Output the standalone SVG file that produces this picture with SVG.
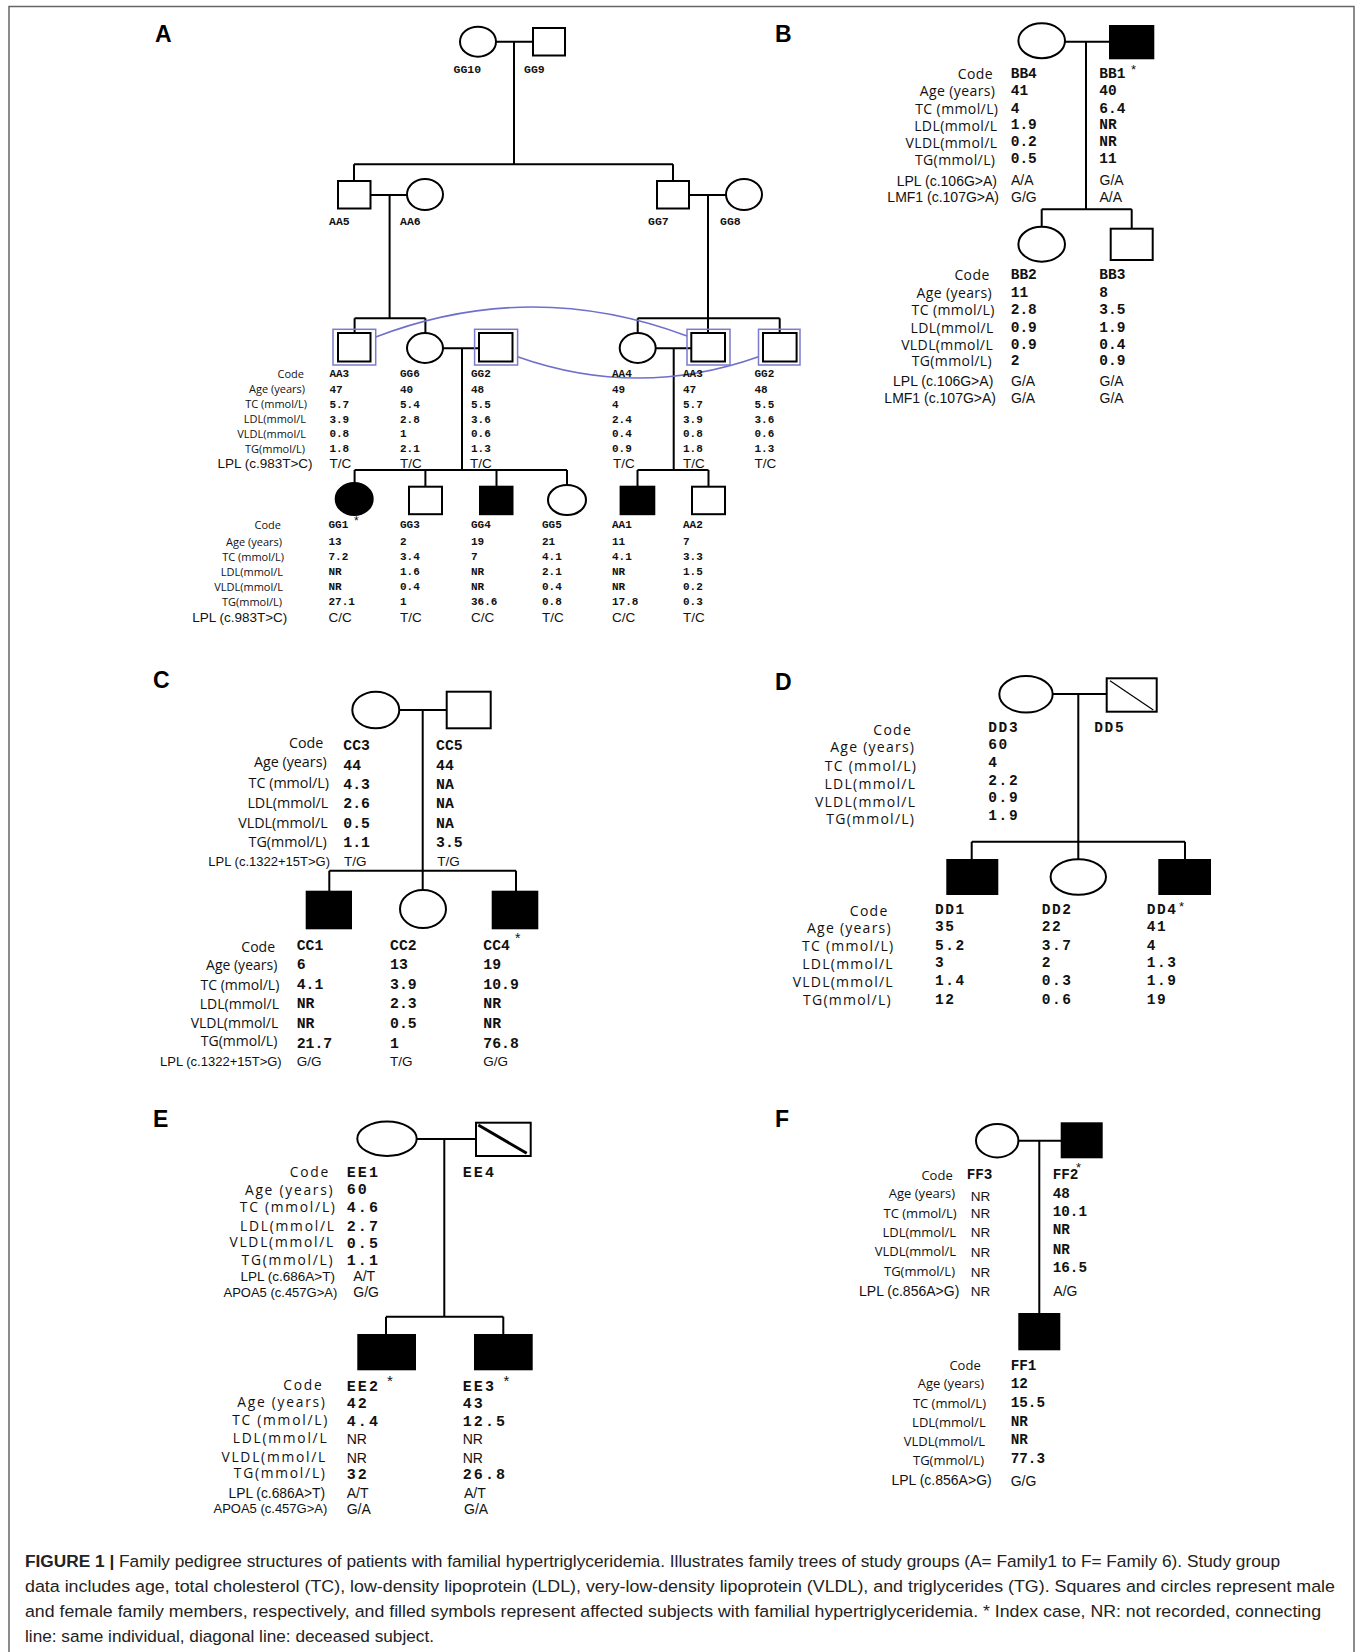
<svg xmlns="http://www.w3.org/2000/svg" width="1357" height="1652" viewBox="0 0 1357 1652">
<style>
.fr{fill:none;stroke:#666;stroke-width:1.5}
.ln{fill:none;stroke:#000;stroke-width:2}
.s{fill:#fff;stroke:#000;stroke-width:2}
.f{fill:#000;stroke:#000;stroke-width:2}
.bx{fill:none;stroke:#7b7bd0;stroke-width:1.5}
.arc{fill:none;stroke:#6f6fcc;stroke-width:1.6}
.pl{font-family:"Liberation Sans",Arial,sans-serif;font-weight:bold;font-size:23px;fill:#000}
.l{font-family:"Open Sans","Liberation Sans",sans-serif;text-anchor:end;fill:#111}
.ge{font-family:"Liberation Sans",Arial,sans-serif;text-anchor:end;fill:#111}
.g{font-family:"Liberation Sans",Arial,sans-serif;fill:#111}
.v{font-family:"Liberation Mono","Courier New",monospace;font-weight:bold;fill:#111}
.ast{font-family:"Liberation Sans",Arial,sans-serif;fill:#111}
.cap{font-family:"Liberation Sans",Arial,sans-serif;font-size:17.2px;fill:#222}
</style>
<rect x="0" y="0" width="1357" height="1652" fill="#fff"/>
<path class="fr" d="M9 1652 V6.5 H1354 V1652"/>

<g id="panel-labels">
<text class="pl" x="155" y="42">A</text>
<text class="pl" x="775" y="42">B</text>
<text class="pl" x="153" y="688">C</text>
<text class="pl" x="775" y="690">D</text>
<text class="pl" x="153" y="1127">E</text>
<text class="pl" x="775" y="1127">F</text>
</g>

<g id="connectors" class="ln">
<path d="M496 41.7 H533 M514 41.7 V164.3 M354 164.3 H673 M354 164.3 V181 M673 164.3 V181"/>
<path d="M370.5 195 H407 M389.6 195 V318.3 M689 195 H726 M708 195 V318.3"/>
<path d="M354.6 318.3 H425.4 M354.6 318.3 V333 M425.4 318.3 V333"/>
<path d="M443 348.3 H479 M462 348.3 V470"/>
<path d="M637.7 318.3 H779.7 M637.7 318.3 V333 M708 318.3 V333 M779.7 318.3 V333"/>
<path d="M655.7 348.3 H691.3 M673.7 348.3 V470"/>
<path d="M354.6 470 H567 M354.6 470 V483 M425.4 470 V486.7 M496.5 470 V486.7 M567 470 V485"/>
<path d="M637.5 470 H708.5 M637.5 470 V486.7 M708.5 470 V486.7"/>
<path d="M1065 41.7 H1110 M1086 41.7 V209.3 M1041.7 209.3 H1131.7 M1041.7 209.3 V226.7 M1131.7 209.3 V228.7"/>
<path d="M399.3 710 H446.7 M422.7 710 V890 M329.3 870.7 H516 M329.3 870.7 V891.7 M516 870.7 V891.7"/>
<path d="M1052.7 694 H1106.7 M1078.3 694 V859.3 M971.7 841.7 H1185 M971.7 841.7 V860 M1185 841.7 V860"/>
<path d="M416.7 1139 H476 M444.3 1139 V1316.7 M386 1316.7 H503.3 M386 1316.7 V1335 M503.3 1316.7 V1335"/>
<path d="M1018.3 1140.7 H1061.7 M1039.3 1140.7 V1314"/>
<path class="arc" d="M375.7 337 Q531 277.5 687 336"/>
<path class="arc" d="M517.5 356.7 Q638 399.3 758.5 356.7"/>
</g>

<!-- ===== Panel A ===== -->
<g id="A-GG10"><ellipse class="s" cx="478" cy="41.7" rx="18" ry="15"/><text class="v" font-size="11.5" x="453.5" y="73">GG10</text></g>
<g id="A-GG9"><rect class="s" x="533" y="28" width="32" height="27.5"/><text class="v" font-size="11.5" x="524" y="73">GG9</text></g>
<g id="A-AA5"><rect class="s" x="338" y="181" width="32.5" height="27.5"/><text class="v" font-size="11.5" x="329" y="225">AA5</text></g>
<g id="A-AA6"><ellipse class="s" cx="425" cy="194.5" rx="18" ry="15.5"/><text class="v" font-size="11.5" x="400" y="225">AA6</text></g>
<g id="A-GG7"><rect class="s" x="657" y="181" width="32" height="27.5"/><text class="v" font-size="11.5" x="648" y="225">GG7</text></g>
<g id="A-GG8"><ellipse class="s" cx="744" cy="194.5" rx="18" ry="15.5"/><text class="v" font-size="11.5" x="720" y="225">GG8</text></g>

<g id="A-labels-gen3" class="l" font-size="11">
<text x="304" y="378">Code</text>
<text x="305" y="393.3">Age (years)</text>
<text x="307" y="408.3">TC (mmol/L)</text>
<text x="306" y="423.3">LDL(mmol/L</text>
<text x="306" y="438">VLDL(mmol/L</text>
<text x="305" y="452.7">TG(mmol/L)</text>
<text class="ge" x="312.6" y="468.3" font-size="13.5">LPL (c.983T&gt;C)</text>
</g>

<g id="A-AA3">
<rect class="s" x="338" y="333" width="32.5" height="28.5"/><rect class="bx" x="333" y="329.3" width="42.7" height="35.7"/>
<g class="v" font-size="11" transform="translate(329.4,0)"><text y="377.3">AA3</text><text y="392.6">47</text><text y="407.6">5.7</text><text y="422.6">3.9</text><text y="437.3">0.8</text><text y="452">1.8</text></g>
<text class="g" font-size="13.5" x="329.4" y="468.3">T/C</text>
</g>
<g id="A-GG6">
<ellipse class="s" cx="425" cy="348" rx="18" ry="15"/>
<g class="v" font-size="11" transform="translate(400,0)"><text y="377.3">GG6</text><text y="392.6">40</text><text y="407.6">5.4</text><text y="422.6">2.8</text><text y="437.3">1</text><text y="452">2.1</text></g>
<text class="g" font-size="13.5" x="400" y="468.3">T/C</text>
</g>
<g id="A-GG2">
<rect class="s" x="479" y="333" width="33.5" height="28.5"/><rect class="bx" x="474.6" y="329.3" width="43" height="35.7"/>
<g class="v" font-size="11" transform="translate(471,0)"><text y="377.3">GG2</text><text y="392.6">48</text><text y="407.6">5.5</text><text y="422.6">3.6</text><text y="437.3">0.6</text><text y="452">1.3</text></g>
<text class="g" font-size="13.5" x="470" y="468.3">T/C</text>
</g>
<g id="A-AA4">
<ellipse class="s" cx="637.7" cy="348" rx="18" ry="15"/>
<g class="v" font-size="11" transform="translate(612,0)"><text y="377.3">AA4</text><text y="392.6">49</text><text y="407.6">4</text><text y="422.6">2.4</text><text y="437.3">0.4</text><text y="452">0.9</text></g>
<text class="g" font-size="13.5" x="613" y="468.3">T/C</text>
</g>
<g id="A-AA3b">
<rect class="s" x="691.3" y="333" width="33.7" height="28.5"/><rect class="bx" x="687" y="329.3" width="43" height="35.7"/>
<g class="v" font-size="11" transform="translate(683,0)"><text y="377.3">AA3</text><text y="392.6">47</text><text y="407.6">5.7</text><text y="422.6">3.9</text><text y="437.3">0.8</text><text y="452">1.8</text></g>
<text class="g" font-size="13.5" x="683" y="468.3">T/C</text>
</g>
<g id="A-GG2b">
<rect class="s" x="763" y="333" width="33.6" height="28.5"/><rect class="bx" x="758.5" y="329.3" width="41.5" height="35.7"/>
<g class="v" font-size="11" transform="translate(754.5,0)"><text y="377.3">GG2</text><text y="392.6">48</text><text y="407.6">5.5</text><text y="422.6">3.6</text><text y="437.3">0.6</text><text y="452">1.3</text></g>
<text class="g" font-size="13.5" x="754.5" y="468.3">T/C</text>
</g>

<g id="A-labels-gen4" class="l" font-size="11">
<text x="281" y="529">Code</text>
<text x="282" y="545.7">Age (years)</text>
<text x="284" y="560.7">TC (mmol/L)</text>
<text x="283" y="575.7">LDL(mmol/L</text>
<text x="283" y="590.7">VLDL(mmol/L</text>
<text x="282" y="605.7">TG(mmol/L)</text>
<text class="ge" x="287.3" y="621.7" font-size="13.5">LPL (c.983T&gt;C)</text>
</g>
<g id="A-GG1">
<ellipse class="f" cx="354.2" cy="499" rx="18.5" ry="16"/>
<g class="v" font-size="11" transform="translate(328.5,0)"><text y="528.3">GG1</text><text y="545">13</text><text y="560">7.2</text><text y="575">NR</text><text y="590">NR</text><text y="605">27.1</text></g>
<text class="ast" font-size="12" x="354" y="525">*</text>
<text class="g" font-size="13.5" x="328.5" y="621.7">C/C</text>
</g>
<g id="A-GG3">
<rect class="s" x="409" y="486.7" width="33" height="27.5"/>
<g class="v" font-size="11" transform="translate(400,0)"><text y="528.3">GG3</text><text y="545">2</text><text y="560">3.4</text><text y="575">1.6</text><text y="590">0.4</text><text y="605">1</text></g>
<text class="g" font-size="13.5" x="400" y="621.7">T/C</text>
</g>
<g id="A-GG4">
<rect class="f" x="480" y="486.7" width="32.5" height="27.5"/>
<g class="v" font-size="11" transform="translate(471,0)"><text y="528.3">GG4</text><text y="545">19</text><text y="560">7</text><text y="575">NR</text><text y="590">NR</text><text y="605">36.6</text></g>
<text class="g" font-size="13.5" x="471" y="621.7">C/C</text>
</g>
<g id="A-GG5">
<ellipse class="s" cx="567" cy="500" rx="19" ry="15"/>
<g class="v" font-size="11" transform="translate(542,0)"><text y="528.3">GG5</text><text y="545">21</text><text y="560">4.1</text><text y="575">2.1</text><text y="590">0.4</text><text y="605">0.8</text></g>
<text class="g" font-size="13.5" x="542" y="621.7">T/C</text>
</g>
<g id="A-AA1">
<rect class="f" x="620.6" y="486.7" width="33.7" height="27.5"/>
<g class="v" font-size="11" transform="translate(612,0)"><text y="528.3">AA1</text><text y="545">11</text><text y="560">4.1</text><text y="575">NR</text><text y="590">NR</text><text y="605">17.8</text></g>
<text class="g" font-size="13.5" x="612" y="621.7">C/C</text>
</g>
<g id="A-AA2">
<rect class="s" x="692" y="486.7" width="33" height="27.5"/>
<g class="v" font-size="11" transform="translate(683,0)"><text y="528.3">AA2</text><text y="545">7</text><text y="560">3.3</text><text y="575">1.5</text><text y="590">0.2</text><text y="605">0.3</text></g>
<text class="g" font-size="13.5" x="683" y="621.7">T/C</text>
</g>

<!-- ===== Panel B ===== -->
<g id="B-labels-top" class="l" font-size="14" letter-spacing="0.4">
<text x="993" y="78.5">Code</text>
<text x="995.4" y="95.9">Age (years)</text>
<text x="998.4" y="113.5">TC (mmol/L)</text>
<text x="997.4" y="130.9">LDL(mmol/L</text>
<text x="997.4" y="147.9">VLDL(mmol/L</text>
<text x="995.4" y="164.5">TG(mmol/L)</text>
<text class="ge" font-size="14" letter-spacing="0" x="997" y="186">LPL (c.106G&gt;A)</text>
<text class="ge" font-size="14" letter-spacing="0" x="999" y="202.3">LMF1 (c.107G&gt;A)</text>
</g>
<g id="B-BB4">
<ellipse class="s" cx="1041.7" cy="40.8" rx="23.3" ry="17.5"/>
<g class="v" font-size="14.5" transform="translate(1010.7,0)"><text y="77.7">BB4</text><text y="95.1">41</text><text y="112.7">4</text><text y="129.4">1.9</text><text y="146.1">0.2</text><text y="163.4">0.5</text></g>
<g class="g" font-size="14"><text x="1011" y="185">A/A</text><text x="1011" y="201.7">G/G</text></g>
</g>
<g id="B-BB1">
<rect class="f" x="1110" y="26" width="43.3" height="32.3"/>
<g class="v" font-size="14.5" transform="translate(1099.3,0)"><text y="77.7">BB1</text><text y="95.1">40</text><text y="112.7">6.4</text><text y="129.4">NR</text><text y="146.1">NR</text><text y="163.4">11</text></g>
<text class="ast" font-size="13" x="1131" y="74">*</text>
<g class="g" font-size="14"><text x="1099.5" y="185">G/A</text><text x="1099.5" y="201.7">A/A</text></g>
</g>
<g id="B-labels-bottom" class="l" font-size="14" letter-spacing="0.4">
<text x="989.7" y="280.2">Code</text>
<text x="992.1" y="297.5">Age (years)</text>
<text x="994.7" y="315.2">TC (mmol/L)</text>
<text x="993.7" y="332.9">LDL(mmol/L</text>
<text x="993.1" y="349.5">VLDL(mmol/L</text>
<text x="992.1" y="366.2">TG(mmol/L)</text>
<text class="ge" font-size="14" letter-spacing="0" x="993.3" y="386">LPL (c.106G&gt;A)</text>
<text class="ge" font-size="14" letter-spacing="0" x="996" y="402.7">LMF1 (c.107G&gt;A)</text>
</g>
<g id="B-BB2">
<ellipse class="s" cx="1041.7" cy="244.2" rx="23.3" ry="17.5"/>
<g class="v" font-size="14.5" transform="translate(1010.7,0)"><text y="279.4">BB2</text><text y="296.7">11</text><text y="314.4">2.8</text><text y="332.1">0.9</text><text y="348.7">0.9</text><text y="365.4">2</text></g>
<g class="g" font-size="14"><text x="1011" y="386">G/A</text><text x="1011" y="402.7">G/A</text></g>
</g>
<g id="B-BB3">
<rect class="s" x="1110.7" y="228.7" width="42" height="31.3"/>
<g class="v" font-size="14.5" transform="translate(1099.3,0)"><text y="279.4">BB3</text><text y="296.7">8</text><text y="314.4">3.5</text><text y="332.1">1.9</text><text y="348.7">0.4</text><text y="365.4">0.9</text></g>
<g class="g" font-size="14"><text x="1099.5" y="386">G/A</text><text x="1099.5" y="402.7">G/A</text></g>
</g>

<!-- ===== Panel C ===== -->
<g id="C-labels-top" class="l" font-size="14.3">
<text x="323.3" y="747.8">Code</text>
<text x="326.7" y="767.4">Age (years)</text>
<text x="329" y="788.4">TC (mmol/L)</text>
<text x="328.3" y="808.4">LDL(mmol/L</text>
<text x="327.7" y="827.8">VLDL(mmol/L</text>
<text x="326.7" y="847.1">TG(mmol/L)</text>
<text class="ge" font-size="13" x="330" y="865.7">LPL (c.1322+15T&gt;G)</text>
</g>
<g id="C-CC3">
<ellipse class="s" cx="375.8" cy="710" rx="23.5" ry="18.3"/>
<g class="v" font-size="14.8" transform="translate(343.3,0)"><text y="750.4">CC3</text><text y="770.1">44</text><text y="789.4">4.3</text><text y="808.4">2.6</text><text y="827.7">0.5</text><text y="847.1">1.1</text></g>
<text class="g" font-size="13.5" x="344" y="865.7">T/G</text>
</g>
<g id="C-CC5">
<rect class="s" x="446.7" y="691.7" width="44" height="36.6"/>
<g class="v" font-size="14.8" transform="translate(436,0)"><text y="750.4">CC5</text><text y="770.1">44</text><text y="789.4">NA</text><text y="808.4">NA</text><text y="827.7">NA</text><text y="847.1">3.5</text></g>
<text class="g" font-size="13.5" x="437.3" y="865.7">T/G</text>
</g>
<g id="C-labels-bottom" class="l" font-size="14">
<text x="275" y="952.4">Code</text>
<text x="277.3" y="970.1">Age (years)</text>
<text x="279.3" y="990.1">TC (mmol/L)</text>
<text x="279" y="1009.1">LDL(mmol/L</text>
<text x="278.3" y="1027.8">VLDL(mmol/L</text>
<text x="277.3" y="1045.8">TG(mmol/L)</text>
<text class="ge" font-size="13" x="281.7" y="1065.7">LPL (c.1322+15T&gt;G)</text>
</g>
<g id="C-CC1">
<rect class="f" x="306.7" y="891.7" width="44.3" height="36.6"/>
<g class="v" font-size="14.8" transform="translate(296.7,0)"><text y="950.1">CC1</text><text y="969.4">6</text><text y="989.4">4.1</text><text y="1008.4">NR</text><text y="1027.7">NR</text><text y="1047.7">21.7</text></g>
<text class="g" font-size="13.5" x="296.7" y="1065.7">G/G</text>
</g>
<g id="C-CC2">
<ellipse class="s" cx="423" cy="909" rx="23" ry="19"/>
<g class="v" font-size="14.8" transform="translate(390,0)"><text y="950.1">CC2</text><text y="969.4">13</text><text y="989.4">3.9</text><text y="1008.4">2.3</text><text y="1027.7">0.5</text><text y="1047.7">1</text></g>
<text class="g" font-size="13.5" x="390" y="1065.7">T/G</text>
</g>
<g id="C-CC4">
<rect class="f" x="492.7" y="891.7" width="44.6" height="36.6"/>
<g class="v" font-size="14.8" transform="translate(483.3,0)"><text y="950.1">CC4</text><text y="969.4">19</text><text y="989.4">10.9</text><text y="1008.4">NR</text><text y="1027.7">NR</text><text y="1047.7">76.8</text></g>
<text class="ast" font-size="14" x="515" y="943">*</text>
<text class="g" font-size="13.5" x="483.3" y="1065.7">G/G</text>
</g>

<!-- ===== Panel D ===== -->
<g id="D-labels-top" class="l" font-size="14" letter-spacing="1.24">
<text x="912" y="734.9">Code</text>
<text x="915.2" y="751.9">Age (years)</text>
<text x="917.2" y="770.9">TC (mmol/L)</text>
<text x="916.2" y="789.2">LDL(mmol/L</text>
<text x="916.2" y="806.6">VLDL(mmol/L</text>
<text x="915.2" y="824.2">TG(mmol/L)</text>
</g>
<g id="D-DD3">
<ellipse class="s" cx="1026" cy="694.3" rx="26.7" ry="18.3"/>
<g class="v" font-size="14.5" letter-spacing="1.6" transform="translate(988.3,0)"><text y="732">DD3</text><text y="749">60</text><text y="767.4">4</text><text y="784.7">2.2</text><text y="802.4">0.9</text><text y="820.4">1.9</text></g>
</g>
<g id="D-DD5">
<rect class="s" x="1106.7" y="678.3" width="50" height="33.4"/>
<path d="M1110 680.7 L1153.3 710" stroke="#000" stroke-width="1.2"/>
<text class="v" font-size="14.5" letter-spacing="1.6" x="1094.3" y="732">DD5</text>
</g>
<g id="D-labels-bottom" class="l" font-size="14" letter-spacing="1.24">
<text x="888.5" y="915.9">Code</text>
<text x="891.9" y="932.6">Age (years)</text>
<text x="894.5" y="950.9">TC (mmol/L)</text>
<text x="893.9" y="969.2">LDL(mmol/L</text>
<text x="893.9" y="986.9">VLDL(mmol/L</text>
<text x="891.9" y="1004.9">TG(mmol/L)</text>
</g>
<g id="D-DD1">
<rect class="f" x="947.3" y="860" width="50" height="34"/>
<g class="v" font-size="14.5" letter-spacing="1.6" transform="translate(935,0)"><text y="914">DD1</text><text y="931.4">35</text><text y="949.7">5.2</text><text y="967.4">3</text><text y="985.4">1.4</text><text y="1003.7">12</text></g>
</g>
<g id="D-DD2">
<ellipse class="s" cx="1078.3" cy="877" rx="27.7" ry="17.8"/>
<g class="v" font-size="14.5" letter-spacing="1.6" transform="translate(1041.7,0)"><text y="914">DD2</text><text y="931.4">22</text><text y="949.7">3.7</text><text y="967.4">2</text><text y="985.4">0.3</text><text y="1003.7">0.6</text></g>
</g>
<g id="D-DD4">
<rect class="f" x="1159.3" y="860" width="50.7" height="34"/>
<g class="v" font-size="14.5" letter-spacing="1.6" transform="translate(1146.7,0)"><text y="914">DD4</text><text y="931.4">41</text><text y="949.7">4</text><text y="967.4">1.3</text><text y="985.4">1.9</text><text y="1003.7">19</text></g>
<text class="ast" font-size="13" x="1179" y="911">*</text>
</g>

<!-- ===== Panel E ===== -->
<g id="E-labels-top" class="l" font-size="13.8" letter-spacing="1.75">
<text x="330" y="1177.2">Code</text>
<text x="334.4" y="1194.5">Age (years)</text>
<text x="336.7" y="1212.2">TC (mmol/L)</text>
<text x="335.7" y="1230.5">LDL(mmol/L</text>
<text x="335" y="1247.2">VLDL(mmol/L</text>
<text x="334.4" y="1264.8">TG(mmol/L)</text>
<text class="ge" font-size="13.5" letter-spacing="0" x="335" y="1280.5">LPL (c.686A&gt;T)</text>
<text class="ge" font-size="13" letter-spacing="0" x="337.3" y="1297.1">APOA5 (c.457G&gt;A)</text>
</g>
<g id="E-EE1">
<ellipse class="s" cx="387" cy="1138.8" rx="29.7" ry="17.2"/>
<g class="v" font-size="15" letter-spacing="2.1" transform="translate(346.7,0)"><text y="1176.7">EE1</text><text y="1194">60</text><text y="1212.3">4.6</text><text y="1230.7">2.7</text><text y="1247.7">0.5</text><text y="1265">1.1</text></g>
<g class="g" font-size="14"><text x="353.3" y="1280.7">A/T</text><text x="353.3" y="1297.3">G/G</text></g>
</g>
<g id="E-EE4">
<rect class="s" x="476" y="1122.7" width="54.7" height="33.3"/>
<path d="M478.3 1125 L526.7 1153.3" stroke="#000" stroke-width="3"/>
<text class="v" font-size="15" letter-spacing="2.1" x="462.7" y="1176.7">EE4</text>
</g>
<g id="E-labels-bottom" class="l" font-size="13.8" letter-spacing="1.75">
<text x="323.4" y="1390">Code</text>
<text x="326.7" y="1407.3">Age (years)</text>
<text x="329" y="1425">TC (mmol/L)</text>
<text x="328.4" y="1443.3">LDL(mmol/L</text>
<text x="327" y="1462.3">VLDL(mmol/L</text>
<text x="326.7" y="1477.7">TG(mmol/L)</text>
<text class="ge" font-size="13.8" letter-spacing="0" x="325" y="1498.1">LPL (c.686A&gt;T)</text>
<text class="ge" font-size="13" letter-spacing="0" x="327.3" y="1513.1">APOA5 (c.457G&gt;A)</text>
</g>
<g id="E-EE2">
<rect class="f" x="358.3" y="1335" width="56.7" height="34.3"/>
<g class="v" font-size="15" letter-spacing="2.1" transform="translate(346.7,0)"><text y="1390.7">EE2</text><text y="1407.7">42</text><text y="1425.7">4.4</text><text y="1479">32</text></g>
<g class="g" font-size="14"><text x="346.7" y="1444">NR</text><text x="346.7" y="1462.7">NR</text><text x="346.7" y="1498.3">A/T</text><text x="346.7" y="1514.3">G/A</text></g>
<text class="ast" font-size="15" x="387" y="1386">*</text>
</g>
<g id="E-EE3">
<rect class="f" x="475" y="1335" width="56.7" height="34.3"/>
<g class="v" font-size="15" letter-spacing="2.1" transform="translate(462.7,0)"><text y="1390.7">EE3</text><text y="1407.7">43</text><text y="1425.7">12.5</text><text y="1479">26.8</text></g>
<g class="g" font-size="14"><text x="462.7" y="1444">NR</text><text x="462.7" y="1462.7">NR</text><text x="464" y="1498.3">A/T</text><text x="464" y="1514.3">G/A</text></g>
<text class="ast" font-size="15" x="503.5" y="1386">*</text>
</g>

<!-- ===== Panel F ===== -->
<g id="F-labels-top" class="l" font-size="13">
<text x="952.7" y="1179.7">Code</text>
<text x="955" y="1198">Age (years)</text>
<text x="956.7" y="1218">TC (mmol/L)</text>
<text x="956" y="1237">LDL(mmol/L</text>
<text x="956" y="1256.4">VLDL(mmol/L</text>
<text x="955" y="1276.4">TG(mmol/L)</text>
<text class="ge" font-size="14" x="959.3" y="1296">LPL (c.856A&gt;G)</text>
</g>
<g id="F-FF3">
<ellipse class="s" cx="997.2" cy="1140.7" rx="21.2" ry="16.7"/>
<text class="v" font-size="14.3" x="966.7" y="1179.3">FF3</text>
<g class="g" font-size="13.5" transform="translate(970.7,0)"><text y="1200.6">NR</text><text y="1218.2">NR</text><text y="1237.2">NR</text><text y="1256.6">NR</text><text y="1276.6">NR</text><text y="1295.9">NR</text></g>
</g>
<g id="F-FF2">
<rect class="f" x="1061.7" y="1123.3" width="40" height="34"/>
<g class="v" font-size="14.3" transform="translate(1052.7,0)"><text y="1179.3">FF2</text><text y="1197.6">48</text><text y="1216">10.1</text><text y="1234.3">NR</text><text y="1253.6">NR</text><text y="1272">16.5</text></g>
<text class="ast" font-size="13" x="1076" y="1172">*</text>
<text class="g" font-size="14" x="1053.3" y="1296">A/G</text>
</g>
<g id="F-labels-bottom" class="l" font-size="13">
<text x="980.7" y="1369.7">Code</text>
<text x="984" y="1388">Age (years)</text>
<text x="986" y="1408">TC (mmol/L)</text>
<text x="985.7" y="1427">LDL(mmol/L</text>
<text x="985" y="1445.7">VLDL(mmol/L</text>
<text x="984" y="1464.7">TG(mmol/L)</text>
<text class="ge" font-size="14" x="991.7" y="1485">LPL (c.856A&gt;G)</text>
</g>
<g id="F-FF1">
<rect class="f" x="1019.3" y="1314" width="40" height="35.3"/>
<g class="v" font-size="14.3" transform="translate(1010.7,0)"><text y="1370">FF1</text><text y="1388.3">12</text><text y="1407">15.5</text><text y="1426">NR</text><text y="1444.3">NR</text><text y="1463.3">77.3</text></g>
<text class="g" font-size="14" x="1010.7" y="1486">G/G</text>
</g>

<!-- Caption -->
<g id="caption" class="cap">
<text x="25" y="1567" textLength="1255" lengthAdjust="spacingAndGlyphs"><tspan font-weight="bold">FIGURE 1 | </tspan>Family pedigree structures of patients with familial hypertriglyceridemia. Illustrates family trees of study groups (A= Family1 to F= Family 6). Study group</text>
<text x="25" y="1592" textLength="1310" lengthAdjust="spacingAndGlyphs">data includes age, total cholesterol (TC), low-density lipoprotein (LDL), very-low-density lipoprotein (VLDL), and triglycerides (TG). Squares and circles represent male</text>
<text x="25" y="1617" textLength="1296" lengthAdjust="spacingAndGlyphs">and female family members, respectively, and filled symbols represent affected subjects with familial hypertriglyceridemia. * Index case, NR: not recorded, connecting</text>
<text x="25" y="1642">line: same individual, diagonal line: deceased subject.</text>
</g>
</svg>
